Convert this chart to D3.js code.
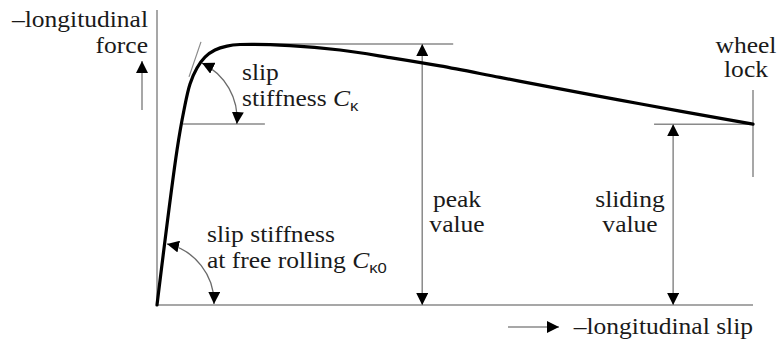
<!DOCTYPE html>
<html><head><meta charset="utf-8">
<script src="https://cdn.jsdelivr.net/npm/d3@7"></script>
<style>
html,body{margin:0;padding:0;background:#fff;}
svg{display:block;}
</style></head>
<body>
<svg id="chart" width="777" height="341"></svg>
<script>
// ---- data (normalised: slip 0..1 = wheel lock, force 0..1 = peak) ----
const slip  = [0, 0.0336, 0.0453, 0.0554, 0.0671, 0.0805, 0.0973, 0.1174, 0.1393, 0.2232, 0.307, 0.391, 0.4748, 0.5755, 0.6762, 0.7768, 0.8775, 1.0];
const force = [0, 0.594, 0.747, 0.847, 0.908, 0.950, 0.977, 0.992, 0.998, 0.994, 0.977, 0.948, 0.916, 0.872, 0.828, 0.785, 0.743, 0.693];
const peakValue = 1.0;
const slidingValue = 0.693;
const peakArrowSlip = 0.445;
const slidingArrowSlip = 0.866;

const svg = d3.select("#chart");
const x = d3.scaleLinear().domain([0, 1]).range([157, 753]);
const y = d3.scaleLinear().domain([0, 1]).range([305, 44]);

const grey = "#8a8a8a";
const defs = svg.append("defs");
defs.append("marker").attr("id", "ah")
  .attr("viewBox", "0 0 12 12").attr("refX", 12).attr("refY", 6)
  .attr("markerWidth", 12).attr("markerHeight", 12)
  .attr("markerUnits", "userSpaceOnUse")
  .attr("orient", "auto-start-reverse")
  .append("path").attr("d", "M0,0 L12,6 L0,12 Z").attr("fill", "#000");

function line(x1, y1, x2, y2, opts = {}) {
  const l = svg.append("line")
    .attr("x1", x1).attr("y1", y1).attr("x2", x2).attr("y2", y2)
    .attr("stroke", opts.color || grey).attr("stroke-width", opts.w || 1.5);
  if (opts.start) l.attr("marker-start", "url(#ah)");
  if (opts.end) l.attr("marker-end", "url(#ah)");
  return l;
}

// axes
line(x(0), y(0), x(0), y(1.13));
line(x(0), y(0), x(1), y(0));
// wheel lock marker
line(x(1), y(0.49), x(1), y(0.824));
// peak
line(x(0.139), y(peakValue), x(0.497), y(peakValue));
line(x(peakArrowSlip), y(0), x(peakArrowSlip), y(peakValue), {start: true, end: true});
// sliding
line(x(0.834), y(slidingValue), x(1), y(slidingValue));
line(x(slidingArrowSlip), y(0), x(slidingArrowSlip), y(slidingValue), {start: true, end: true});
// tangent and horizontal reference for C_kappa
line(x(0.0738), y(1.008), x(0.0537), y(0.874), {w: 1.2});
line(x(0.0436), y(0.6935), x(0.181), y(0.6935), {w: 1.5});

// angle arcs
function arc(p1, p2, r) {
  svg.append("path")
    .attr("d", `M${x(p1[0])},${y(p1[1])} A${r},${r} 0 0 1 ${x(p2[0])},${y(p2[1])}`)
    .attr("fill", "none").attr("stroke", "#6a6a6a").attr("stroke-width", 1.3)
    .attr("marker-start", "url(#ah)").attr("marker-end", "url(#ah)");
}
arc([0.0755, 0.927], [0.134, 0.6935], 62);
arc([0.0168, 0.234], [0.0956, 0.004], 60);

// curve
svg.append("path")
  .datum(slip.map((s, i) => [s, force[i]]))
  .attr("d", d3.line().x(d => x(d[0])).y(d => y(d[1])).curve(d3.curveCatmullRom.alpha(0.5)))
  .attr("fill", "none").attr("stroke", "#000").attr("stroke-width", 3.2)
  .attr("stroke-linejoin", "round").attr("stroke-linecap", "round");

// direction arrows
line(142, 110, 142, 61, {end: true, w: 1.5});
line(508, 327, 559, 327, {end: true, w: 1.5});

// labels
const FS = 23, SX = 1.11;
function label(px, py, anchor, build) {
  const g = svg.append("g").attr("transform", `translate(${px},${py}) scale(${SX},1)`);
  const t = g.append("text").attr("text-anchor", anchor).attr("font-size", FS)
    .attr("font-family", "Liberation Serif").attr("fill", "#1a1a1a");
  build(t);
  return t;
}
const plain = s => t => t.text(s);
function withSub(base, sub) {
  return t => {
    t.append("tspan").text(base);
    t.append("tspan").attr("font-style", "italic").text("C");
    t.append("tspan").attr("font-size", 15).attr("dy", 5)
      .attr("font-family", "Liberation Sans").text(sub);
  };
}
label(148, 27, "end", plain("–longitudinal"));
label(148, 53, "end", plain("force"));
label(242, 80, "start", plain("slip"));
label(242, 106, "start", withSub("stiffness ", "κ"));
label(207, 242, "start", plain("slip stiffness"));
label(207, 268, "start", withSub("at free rolling ", "κ0"));
label(457, 207, "middle", plain("peak"));
label(457, 232, "middle", plain("value"));
label(630, 207, "middle", plain("sliding"));
label(630, 232, "middle", plain("value"));
label(746, 53, "middle", plain("wheel"));
label(746, 77, "middle", plain("lock"));
label(753, 334, "end", plain("–longitudinal slip"));
</script>
</body></html>
